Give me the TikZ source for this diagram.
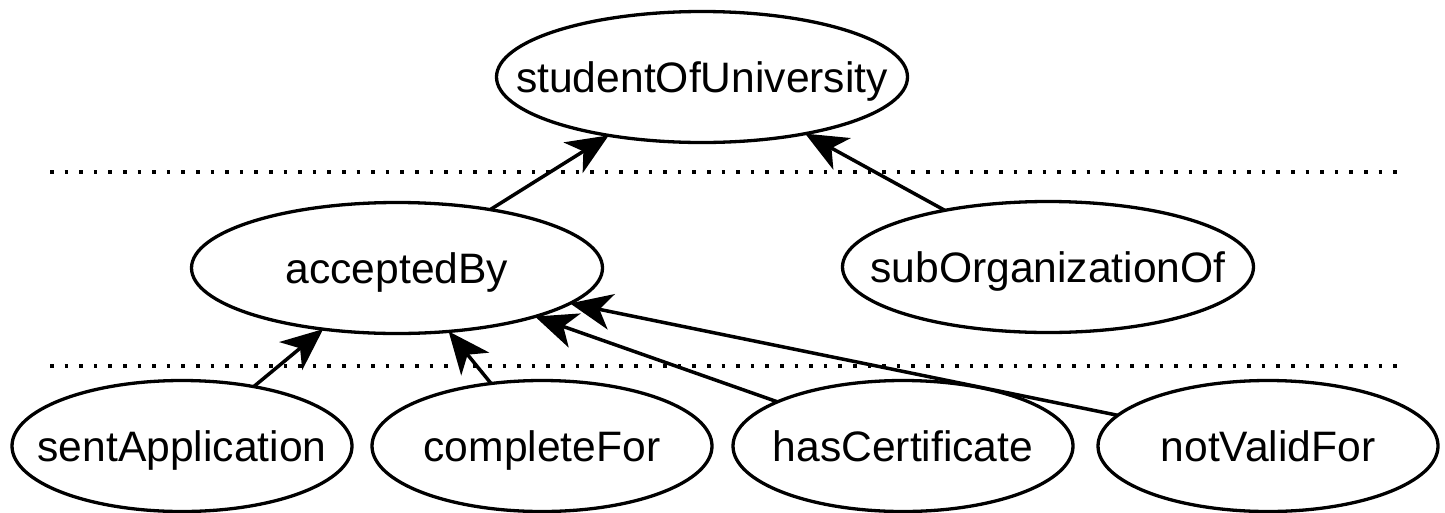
\documentclass[tikz,border=0pt]{standalone}
\usepackage{fontspec}
\setmainfont{Liberation Sans}
\usetikzlibrary{shapes.geometric,arrows.meta}
\newcommand\ovtext[1]{\makebox[0pt][c]{#1}}
\tikzset{
  prop/.style={ellipse, draw, line width=3.3pt, inner sep=0pt, outer sep=0pt,
    text height=30.5pt, text depth=0pt,
    font=\fontsize{42.6}{48}\selectfont},
  wideprop/.style={prop, minimum width=411pt, minimum height=131pt},
  lowprop/.style={prop, minimum width=340pt, minimum height=131pt},
  subarrow/.style={line width=3.5pt, -{Stealth[length=42pt,width=36pt,inset=12pt]}},
  levelsep/.style={line width=3.6pt, dash pattern=on 3.6pt off 11pt}
}
\begin{document}
\begin{tikzpicture}[x=1pt,y=-1pt]
\useasboundingbox (0,0) rectangle (1445,512);
\node[wideprop] (sou) at (702,77) {\ovtext{studentOfUniversity}};
\node[wideprop] (acc) at (397,268) {\ovtext{acceptedBy}};
\node[wideprop] (sub) at (1048,267) {\ovtext{subOrganizationOf}};
\node[lowprop] (sent) at (182,446) {\ovtext{sentApplication}};
\node[lowprop] (comp) at (542,446) {\ovtext{completeFor}};
\node[lowprop] (cert) at (903,446) {\ovtext{hasCertificate}};
\node[lowprop] (notv) at (1268,446) {\ovtext{notValidFor}};
\coordinate (l1a) at (50,172);
\coordinate (l1b) at (1397,172);
\coordinate (l2a) at (50,366);
\coordinate (l2b) at (1397,366);
\draw[levelsep] (l1a) -- (l1b);
\draw[levelsep] (l2a) -- (l2b);
\draw[subarrow] (acc) -- (sou);
\draw[subarrow] (sub) -- (sou);
\draw[subarrow] (sent) -- (acc);
\draw[subarrow] (comp) -- (acc);
\draw[subarrow] (cert) -- (acc);
\draw[subarrow] (notv) -- (acc);
\end{tikzpicture}
\end{document}
